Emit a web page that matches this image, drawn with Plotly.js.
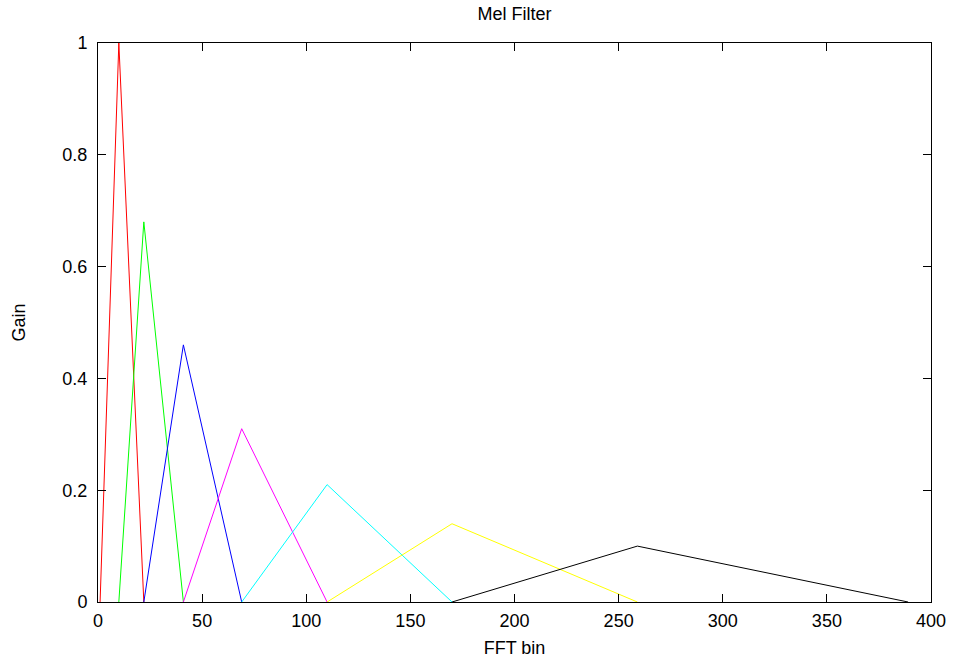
<!DOCTYPE html>
<html>
<head>
<meta charset="utf-8">
<script src="https://cdn.plot.ly/plotly-3.0.1.min.js"></script>
<style>
  html, body { margin: 0; padding: 0; background: #ffffff; }
  #chart { width: 954px; height: 660px; }
</style>
</head>
<body>
<div id="chart"></div>
<script>
// Triangular mel filter bank: each filter rises from its start bin to its
// centre bin, then falls back to zero at the following centre bin.
const filterNames = ["filter 1", "filter 2", "filter 3", "filter 4", "filter 5", "filter 6", "filter 7"];
const startBins  = [1, 10, 22, 41, 69, 110, 170];
const centreBins = [10, 22, 41, 69, 110, 170, 259];
const endBins    = [22, 41, 69, 110, 170, 259, 389];
const peakGains  = [1.0, 0.68, 0.46, 0.31, 0.21, 0.14, 0.10];
const lineColors = ["#ff0000", "#00ff00", "#0000ff", "#ff00ff", "#00ffff", "#ffff00", "#000000"];

const xTicks = [0, 50, 100, 150, 200, 250, 300, 350, 400];
const yTicks = [0, 0.2, 0.4, 0.6, 0.8, 1];
const yTickText = ["0", "0.2", "0.4", "0.6", "0.8", "1"];

const traces = filterNames.map((name, i) => ({
  type: "scatter",
  mode: "lines",
  name: name,
  x: [startBins[i], centreBins[i], endBins[i]],
  y: [0, peakGains[i], 0],
  line: { color: lineColors[i], width: 1 },
  hoverinfo: "x+y"
}));

const font = { family: "Liberation Sans, Arial, sans-serif", size: 18, color: "#000000" };

const axisCommon = {
  showgrid: false,
  zeroline: false,
  showline: true,
  linecolor: "#000000",
  linewidth: 1,
  mirror: "allticks",
  ticks: "inside",
  ticklen: 8,
  tickwidth: 1,
  tickcolor: "#000000",
  tickfont: font
};

const layout = {
  width: 954,
  height: 660,
  margin: { l: 98, r: 23, t: 43, b: 58 },
  paper_bgcolor: "#ffffff",
  plot_bgcolor: "#ffffff",
  showlegend: false,
  font: font,
  title: {
    text: "Mel Filter",
    font: font,
    x: 0.5,
    xref: "paper",
    y: 1 - 14 / 660,
    yref: "container",
    yanchor: "middle"
  },
  xaxis: Object.assign({}, axisCommon, {
    range: [0, 400],
    tickvals: xTicks,
    ticktext: xTicks.map(String),
    ticklabelstandoff: 2,
    title: { text: "FFT bin", font: font, standoff: 11 }
  }),
  yaxis: Object.assign({}, axisCommon, {
    range: [0, 1],
    tickvals: yTicks,
    ticktext: yTickText,
    ticklabelstandoff: 6,
    title: { text: "Gain", font: font, standoff: 32 }
  })
};

Plotly.newPlot("chart", traces, layout, { displayModeBar: false });
</script>
</body>
</html>
